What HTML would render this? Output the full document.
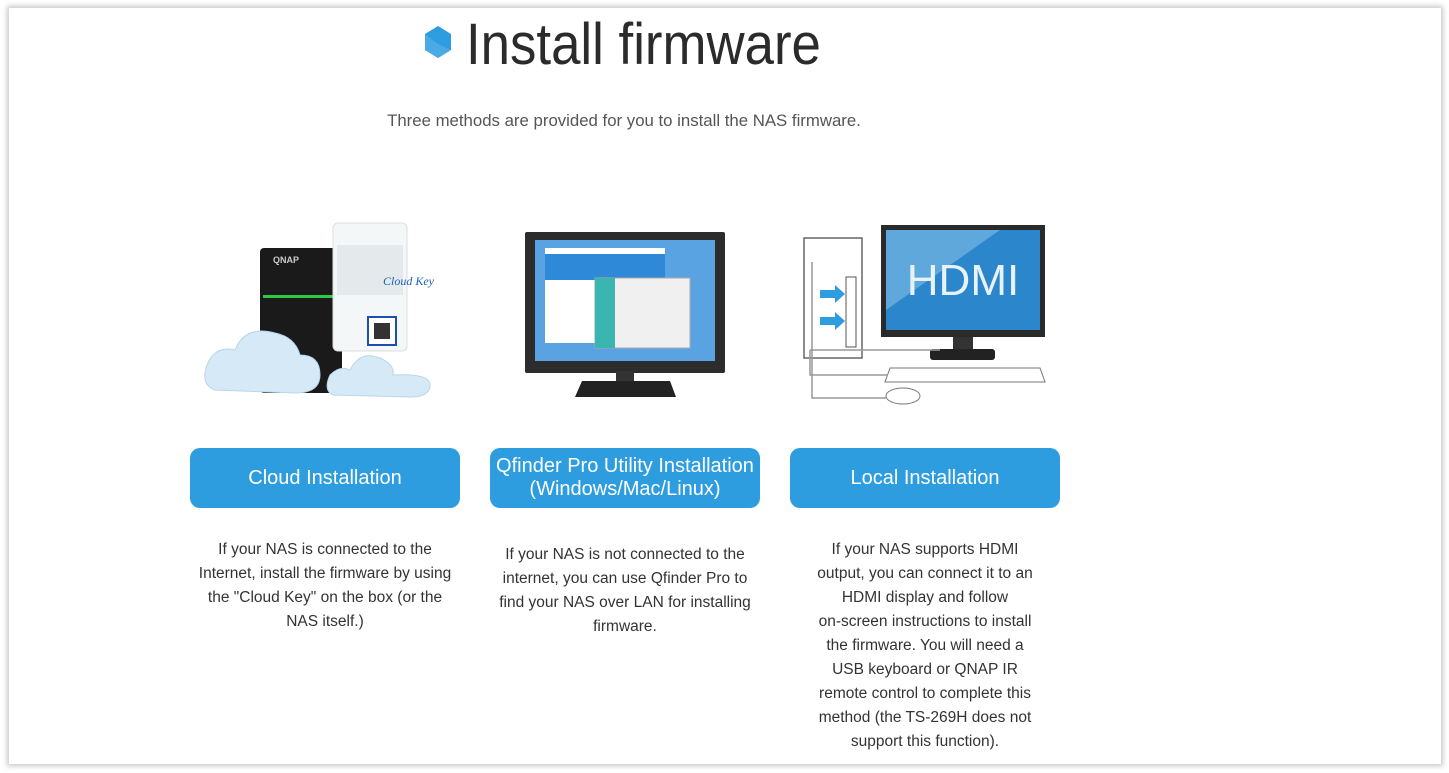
<!DOCTYPE html>
<html><head><meta charset="utf-8"><style>
html,body{margin:0;padding:0;background:#fff;}
body{width:1449px;height:773px;position:relative;overflow:hidden;font-family:"Liberation Sans",sans-serif;}
.page{position:absolute;left:9px;top:8px;width:1432px;height:756px;background:#fff;box-shadow:0 0 5px 2px #c8c8c8;}
.abs{position:absolute;}
.title{left:466px;top:10px;font-size:58px;color:#2b2b2b;white-space:nowrap;transform:scaleX(0.91);transform-origin:left top;line-height:70px;}
.sub{left:300px;width:648px;text-align:center;top:110px;font-size:16.8px;color:#555;line-height:22px;}
.btn{background:#2e9ddf;color:#fff;border-radius:10px;width:270px;height:60px;top:448px;display:flex;align-items:center;justify-content:center;text-align:center;font-size:20px;line-height:23px;}
.txt{width:300px;text-align:center;font-size:15.5px;color:#333;line-height:24px;}
</style></head><body>
<div class="page"></div>
<svg class="abs" style="left:424px;top:26px" width="28" height="32" viewBox="0 0 28 32"><polygon points="14,0 27,8 27,24 14,32 1,24 1,8" fill="#2e9ddf"/><polygon points="1,8 14,18 27,24 14,32 1,24" fill="#4aaae5"/></svg>
<div class="abs title">Install firmware</div>
<div class="abs sub">Three methods are provided for you to install the NAS firmware.</div>

<svg class="abs" style="left:195px;top:215px" width="260" height="190">
<rect x="65" y="33" width="82" height="145" rx="4" fill="#1a1a1a"/>
<text x="78" y="48" fill="#ccc" font-size="9" font-family="Liberation Sans" font-weight="bold">QNAP</text>
<rect x="68" y="80" width="76" height="3" fill="#2ecc40"/>
<rect x="138" y="8" width="74" height="128" rx="5" fill="#f4f7f8" stroke="#ddd"/>
<rect x="142" y="30" width="66" height="50" fill="#e4eaec"/>
<text x="188" y="70" fill="#1d5fbf" font-size="12" font-style="italic" font-family="Liberation Serif">Cloud Key</text>
<rect x="173" y="102" width="28" height="28" fill="#fff" stroke="#1d4fb0" stroke-width="2"/>
<rect x="179" y="108" width="16" height="16" fill="#333"/>
<path d="M20,175 Q5,170 12,150 Q20,130 40,135 Q50,110 80,118 Q100,122 105,140 Q125,140 125,160 Q125,178 100,178 Z" fill="#d5e9f7" stroke="#b9d6ea"/>
<path d="M138,180 Q128,175 135,160 Q145,150 155,155 Q165,135 185,143 Q200,150 198,160 Q235,158 235,170 Q235,182 215,182 Z" fill="#d5e9f7" stroke="#b9d6ea"/>
</svg>

<svg class="abs" style="left:520px;top:228px" width="210" height="175">
<rect x="5" y="4" width="200" height="141" rx="2" fill="#2c2c2c"/>
<rect x="15" y="12" width="180" height="121" fill="#5aa3e3"/>
<rect x="25" y="20" width="120" height="95" fill="#fff"/>
<rect x="25" y="26" width="120" height="26" fill="#2e8ad8"/>
<rect x="75" y="50" width="95" height="70" fill="#f0f0f0" stroke="#aaa"/>
<rect x="75" y="50" width="20" height="70" fill="#3bb5b0"/>
<rect x="96" y="143" width="18" height="10" fill="#333"/>
<polygon points="62,153 150,153 156,169 55,169" fill="#222"/>
</svg>

<svg class="abs" style="left:800px;top:220px" width="250" height="185">
<rect x="4" y="18" width="58" height="120" fill="#fff" stroke="#666" stroke-width="1.5"/>
<rect x="46" y="57" width="10" height="70" fill="#fff" stroke="#555"/>
<polygon points="20,70 35,70 35,65 45,74 35,83 35,78 20,78" fill="#2e9ddf"/>
<polygon points="20,97 35,97 35,92 45,101 35,110 35,105 20,105" fill="#2e9ddf"/>
<rect x="81" y="5" width="164" height="112" fill="#2a2a2a"/>
<rect x="86" y="10" width="154" height="100" fill="#2c86cc"/>
<polygon points="86,10 200,10 86,90" fill="#5ea8dc"/>
<text x="163" y="75" text-anchor="middle" font-size="44" fill="#e8f2fb" font-family="Liberation Sans">HDMI</text>
<rect x="153" y="117" width="20" height="12" fill="#333"/>
<rect x="130" y="129" width="65" height="11" rx="3" fill="#222"/>
<polygon points="90,148 240,148 245,162 85,162" fill="#fff" stroke="#777"/>
<ellipse cx="103" cy="176" rx="17" ry="8" fill="#fff" stroke="#777"/>
<path d="M12,42 V178 H86 M10,130 V155 H88 M10,130 H140" fill="none" stroke="#999" stroke-width="1.5"/>
</svg>

<div class="abs btn" style="left:190px">Cloud Installation</div>
<div class="abs btn" style="left:490px">Qfinder Pro Utility Installation<br>(Windows/Mac/Linux)</div>
<div class="abs btn" style="left:790px">Local Installation</div>

<div class="abs txt" style="left:175px;top:538px">If your NAS is connected to the<br>Internet, install the firmware by using<br>the "Cloud Key" on the box (or the<br>NAS itself.)</div>
<div class="abs txt" style="left:475px;top:543px">If your NAS is not connected to the<br>internet, you can use Qfinder Pro to<br>find your NAS over LAN for installing<br>firmware.</div>
<div class="abs txt" style="left:775px;top:538px">If your NAS supports HDMI<br>output, you can connect it to an<br>HDMI display and follow<br>on-screen instructions to install<br>the firmware. You will need a<br>USB keyboard or QNAP IR<br>remote control to complete this<br>method (the TS-269H does not<br>support this function).</div>
</body></html>
